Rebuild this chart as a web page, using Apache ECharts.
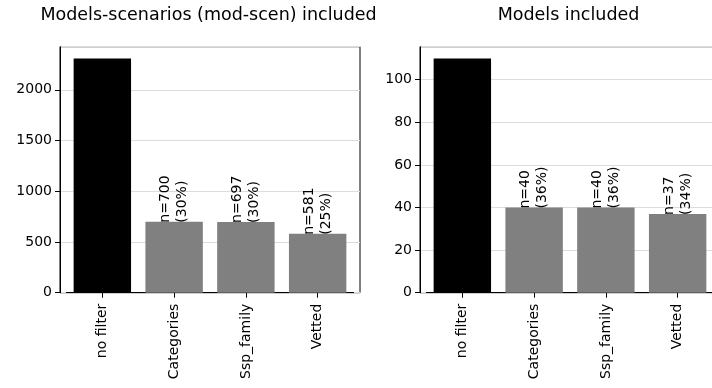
<!DOCTYPE html>
<html>
<head>
<meta charset="utf-8">
<script src="https://cdn.jsdelivr.net/npm/echarts@6/dist/echarts.min.js"></script>
<style>
  html, body { margin: 0; padding: 0; background: #fff; }
  #chart { width: 712px; height: 388px; }
</style>
</head>
<body>
<div id="chart"></div>
<script>
// Filter steps shown on both panels
const categories = ['no filter', 'Categories', 'Ssp_family', 'Vetted'];

// Counts of model-scenario combinations kept after each filter
const modScenCounts = [2309, 700, 697, 581];
// Counts of distinct models kept after each filter
const modelCounts = [110, 40, 40, 37];

const panelTitles = ['Models-scenarios (mod-scen) included', 'Models included'];
const yTicksLeft = [0, 500, 1000, 1500, 2000];
const yTicksRight = [0, 20, 40, 60, 80, 100];

const FONT = 'DejaVu Sans';
const chart = echarts.init(document.getElementById('chart'), null, { renderer: 'canvas' });

// Panel geometry (axes box) and the inner band that holds the bars
const frameTop = 46.7, frameH = 246, frameW = 300;
const frameLefts = [60, 420];
const unit = frameW / 4.18;          // one category step
const innerPad = 0.09 * unit;        // margin between box edge and outer bar slot

function yMaxOf(values) { return Math.max.apply(null, values) * 1.05; }

function buildPanel(idx, values, ticks) {
  const ymax = yMaxOf(values);
  const step = ticks[1] - ticks[0];
  const total = values[0];
  const frameGrid = {
    left: frameLefts[idx], top: frameTop, width: frameW, height: frameH,
    outerBoundsMode: 'none',
    show: true, borderColor: '#000', borderWidth: 1, backgroundColor: 'transparent'
  };
  const barGrid = {
    left: frameLefts[idx] + innerPad, top: frameTop, width: 4 * unit, height: frameH,
    outerBoundsMode: 'none'
  };
  const g0 = idx * 2, g1 = idx * 2 + 1;
  const xAxes = [
    { gridIndex: g0, type: 'value', min: 0, max: 1, show: false },
    {
      gridIndex: g1, type: 'category', data: categories, boundaryGap: true,
      axisLine: { show: true, lineStyle: { color: '#000', width: 1 } },
      axisTick: { show: true, alignWithLabel: true, length: 5, lineStyle: { color: '#000' } },
      axisLabel: { rotate: 90, margin: 11, color: '#000', fontSize: 14, fontFamily: FONT, interval: 0 },
      splitLine: { show: false }
    }
  ];
  const yAxes = [
    {
      gridIndex: g0, type: 'value', min: 0, max: ymax, interval: step,
      axisLine: { show: true, lineStyle: { color: '#000', width: 1 } },
      axisTick: { show: true, length: 5, lineStyle: { color: '#000' } },
      axisLabel: {
        margin: 8, color: '#000', fontSize: 14, fontFamily: FONT,
        showMaxLabel: false,
        formatter: v => (ticks.indexOf(v) >= 0 ? String(v) : '')
      },
      splitLine: { show: true, lineStyle: { color: '#dcdcdc', width: 1 } }
    },
    { gridIndex: g1, type: 'value', min: 0, max: ymax, show: false }
  ];
  const series = [{
    type: 'bar',
    xAxisIndex: idx * 2 + 1,
    yAxisIndex: idx * 2 + 1,
    barWidth: '80%',
    data: values.map((v, i) => ({
      value: v,
      itemStyle: { color: i === 0 ? '#000000' : '#808080' },
      label: i === 0 ? { show: false } : undefined
    })),
    label: {
      show: true,
      position: 'top',
      distance: -1,
      rotate: 90,
      align: 'left',
      verticalAlign: 'middle',
      color: '#000',
      fontSize: 14,
      lineHeight: 17,
      fontFamily: FONT,
      formatter: p => 'n=' + p.value + '\n(' + Math.round(p.value / total * 100) + '%)'
    },
    animation: false
  }];
  const title = {
    text: panelTitles[idx],
    left: frameLefts[idx] + frameW / 2 - 1.5,
    top: 6,
    padding: 0,
    textAlign: 'center',
    textStyle: { fontFamily: FONT, fontSize: 17.5, fontWeight: 'normal', color: '#000' }
  };
  return { grids: [frameGrid, barGrid], xAxes, yAxes, series, title };
}

const p0 = buildPanel(0, modScenCounts, yTicksLeft);
const p1 = buildPanel(1, modelCounts, yTicksRight);

chart.setOption({
  animation: false,
  backgroundColor: '#fff',
  title: [p0.title, p1.title],
  grid: p0.grids.concat(p1.grids),
  xAxis: p0.xAxes.concat(p1.xAxes),
  yAxis: p0.yAxes.concat(p1.yAxes),
  series: p0.series.concat(p1.series)
});
</script>
</body>
</html>
